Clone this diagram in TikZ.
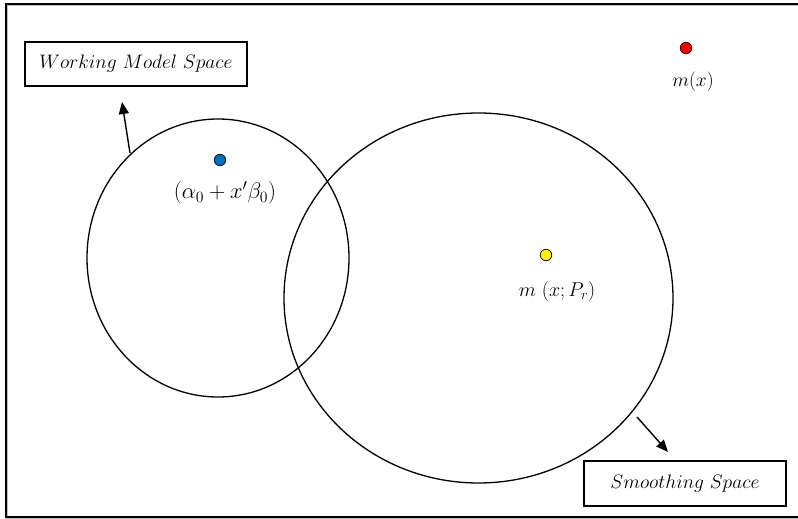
\RequirePackage{fix-cm}
\documentclass[tikz,border=0pt]{standalone}
\usetikzlibrary{shapes.geometric,arrows.meta}
\begin{document}
\begin{tikzpicture}[x=1pt,y=-1pt,
  labelbox/.style={draw,line width=1.2pt,inner sep=0pt,font=\fontsize{19.5}{22}\selectfont},
  space/.style={draw,ellipse,line width=1.3pt,inner sep=0pt},
  dot/.style={circle,draw,line width=0.7pt,inner sep=0pt,minimum size=11.5pt},
  lbl/.style={font=\fontsize{19.5}{22}\selectfont,inner sep=0pt},
  arr/.style={-{Triangle[length=12pt,width=10pt]},line width=1.4pt}]
\useasboundingbox (0,0) rectangle (798,519);
\begin{scope}
\clip (0,0) rectangle (798,519);
\draw[gray!50,line width=2pt] (7,5) rectangle (805,519);
\draw[line width=2.6pt] (6,4) rectangle (803,517);
\end{scope}
% boxes
\node[labelbox,minimum width=222pt,minimum height=44pt] (wms) at (136,64) {$Working\ Model\ Space$};
\node[labelbox,minimum width=202pt,minimum height=45pt] (ss) at (685,483.5) {$Smoothing\ Space$};
% ellipses
\node[space,minimum width=262pt,minimum height=278pt] (small) at (218,258) {};
\node[space,minimum width=389pt,minimum height=370pt] (big) at (478.5,298) {};
% dots
\node[dot,fill={rgb,255:red,0;green,112;blue,192}] (blue) at (220,160) {};
\node[lbl,font=\fontsize{22.5}{25}\selectfont] (bluel) at (225,193) {$(\alpha_0 + x'\beta_0)$};
\node[dot,fill=yellow] (yel) at (546,255) {};
\node[lbl,font=\fontsize{20}{23}\selectfont] (yell) at (557,291) {$m\ (x; P_r)$};
\node[dot,fill=red] (red) at (686,48) {};
\node[lbl] (redl) at (693,82) {$m(x)$};
% arrows
\coordinate (a1s) at (130,153);
\coordinate (a1e) at (122,102);
\coordinate (a2s) at (637,417);
\coordinate (a2e) at (668,452);
\draw[arr] (a1s) -- (a1e);
\draw[arr] (a2s) -- (a2e);
\end{tikzpicture}
\end{document}
